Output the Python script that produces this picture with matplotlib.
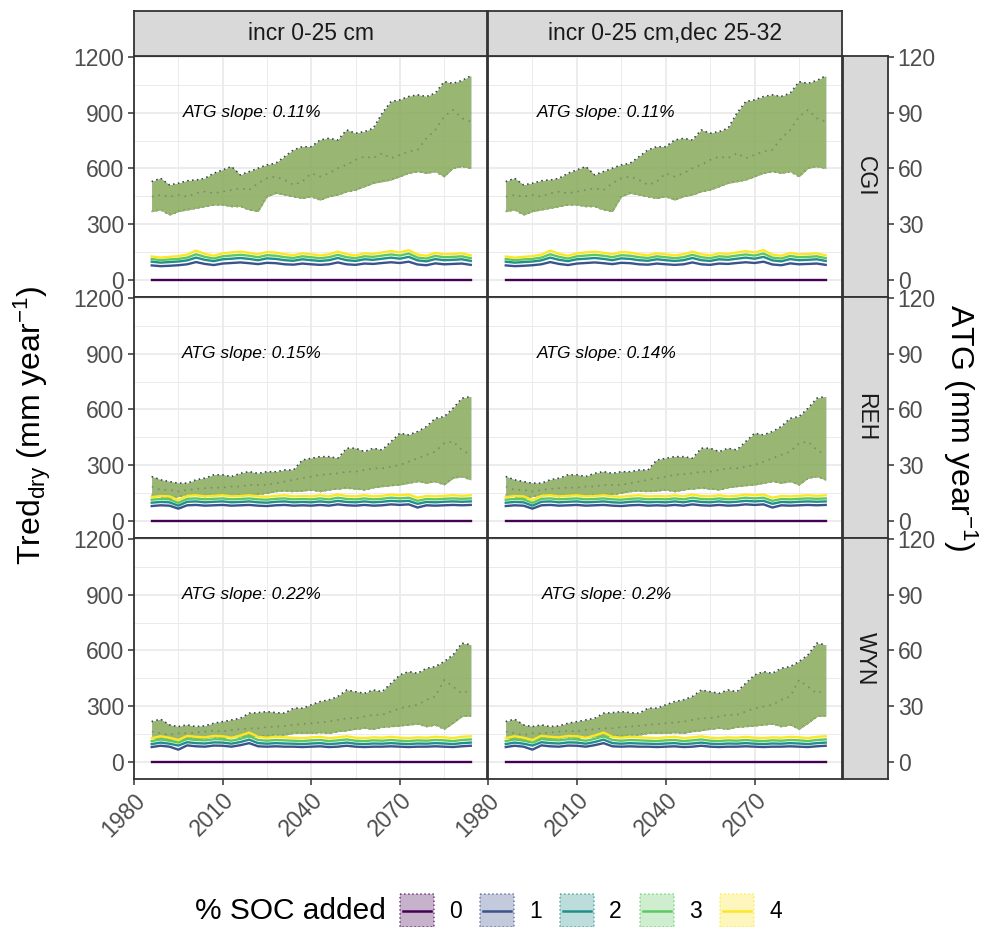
import matplotlib
matplotlib.use('Agg')
import matplotlib.pyplot as plt
from matplotlib.patches import Rectangle
import numpy as np

plt.rcParams['font.family'] = ['Liberation Sans', 'DejaVu Sans']
plt.rcParams['mathtext.fontset'] = 'custom'
plt.rcParams['mathtext.rm'] = 'Liberation Sans'
plt.rcParams['mathtext.it'] = 'Liberation Sans:italic'

# x values (every third simulated year)
years = list(range(1986, 2095, 3))

sites = ['CGI', 'REH', 'WYN']
scenarios = ['incr 0-25 cm', 'incr 0-25 cm,dec 25-32']
soc_levels = ['0', '1', '2', '3', '4']
soc_colors = ['#440154', '#3B528B', '#21908C', '#5DC863', '#FDE725']
slope_labels = [['0.11%', '0.11%'], ['0.15%', '0.14%'], ['0.22%', '0.2%']]

# ATG (mm/yr) ribbon bounds and centre line, secondary axis
cgi_atg_hi = [52.9, 54.7, 51.1, 52.0, 53.4, 53.8, 54.7, 57.4, 59.2, 61.0, 56.5, 58.3, 60.1,
              61.9, 62.8, 66.4, 70.0, 71.7, 71.7, 75.3, 76.2, 75.3, 80.7, 78.9, 79.8, 81.6,
              89.7, 96.0, 96.9, 98.7, 99.6, 98.7, 100.5, 106.7, 105.8, 107.3, 109.8]
cgi_atg_lo = [36.8, 37.7, 35.0, 36.8, 37.7, 38.6, 39.5, 40.4, 40.4, 39.5, 39.5, 37.7, 36.8,
              44.8, 46.6, 45.7, 44.8, 43.9, 44.8, 43.0, 44.8, 45.7, 47.5, 48.4, 50.2, 52.0,
              52.9, 53.8, 55.6, 57.4, 58.3, 57.4, 58.3, 55.6, 60.1, 61.0, 60.1]
cgi_atg_mid = [44.8, 45.7, 44.8, 45.7, 44.8, 46.6, 47.5, 46.6, 47.5, 48.4, 49.3, 48.4, 52.0,
               54.7, 55.6, 53.8, 51.1, 52.9, 57.4, 55.6, 57.4, 60.1, 61.9, 64.6, 66.4, 65.5,
               68.2, 65.5, 67.3, 69.1, 70.0, 76.2, 80.7, 87.9, 91.5, 87.0, 85.2]

reh_atg_hi = [23.9, 22.1, 21.2, 20.3, 20.3, 22.1, 23.0, 24.8, 24.8, 23.9, 25.6, 26.5, 25.6,
              26.5, 26.5, 27.4, 27.4, 32.8, 33.7, 34.6, 34.6, 33.7, 39.1, 39.1, 37.3, 39.1,
              38.2, 42.7, 47.2, 46.3, 48.1, 50.8, 55.2, 56.1, 60.6, 66.0, 66.9]
reh_atg_lo = [14.0, 13.1, 12.2, 13.1, 14.0, 14.0, 13.1, 14.0, 14.0, 13.1, 14.0, 14.0, 14.3,
              14.9, 15.8, 16.1, 15.8, 16.1, 16.7, 15.8, 16.7, 17.2, 17.6, 17.2, 16.7, 17.9,
              18.5, 19.0, 19.4, 20.3, 21.2, 20.3, 21.2, 19.4, 23.0, 23.8, 22.1]
reh_atg_mid = [18.5, 16.7, 16.7, 15.8, 16.7, 17.2, 17.6, 17.9, 17.9, 18.5, 18.5, 19.4, 19.4,
               19.4, 20.3, 21.2, 22.1, 23.0, 23.8, 24.8, 25.1, 25.6, 26.5, 26.5, 27.4, 28.3,
               28.3, 29.2, 30.1, 31.9, 33.7, 35.5, 37.3, 41.8, 42.7, 38.2, 35.5]

wyn_atg_hi = [21.7, 23.0, 19.9, 19.0, 19.9, 19.0, 19.4, 20.8, 21.7, 22.6, 23.5, 26.2, 26.5,
              27.1, 26.5, 26.2, 28.9, 28.9, 30.7, 32.5, 33.4, 35.2, 38.7, 37.8, 36.9, 38.7,
              37.8, 42.3, 46.8, 48.6, 47.7, 50.4, 51.3, 54.0, 57.6, 63.9, 63.0]
wyn_atg_lo = [12.7, 12.7, 11.8, 11.8, 12.7, 12.7, 12.7, 13.6, 12.7, 13.6, 13.6, 13.6, 14.0,
              13.6, 14.5, 14.5, 15.4, 15.4, 15.4, 15.8, 15.4, 16.3, 16.8, 17.6, 18.1, 17.6,
              18.7, 19.0, 19.4, 19.9, 20.4, 19.0, 19.9, 17.6, 20.8, 24.4, 24.8]
wyn_atg_mid = [16.3, 15.4, 14.5, 15.4, 15.4, 15.8, 16.3, 16.8, 16.3, 17.2, 17.6, 18.1, 18.1,
               18.7, 19.0, 19.4, 19.9, 20.4, 20.8, 21.2, 21.7, 22.6, 23.5, 23.5, 24.4, 25.3,
               25.3, 27.1, 28.9, 29.8, 30.7, 33.4, 35.2, 44.1, 40.5, 36.9, 38.7]

# Tred_dry (mm/yr) per % SOC added, primary axis
cgi_tred_0 = [0] * len(years)
cgi_tred_1 = [78, 74, 76, 79, 84, 96, 86, 80, 88, 91, 94, 90, 85, 92, 90, 84, 82, 88, 84,
              81, 84, 94, 84, 81, 88, 86, 91, 95, 91, 98, 83, 79, 89, 84, 86, 88, 81]
cgi_tred_2 = [98, 93, 96, 99, 105, 120, 108, 101, 111, 114, 118, 113, 106, 116, 113, 106,
              103, 111, 106, 102, 106, 118, 106, 102, 111, 108, 114, 120, 114, 124, 105, 100,
              112, 106, 108, 111, 102]
cgi_tred_3 = [112, 107, 110, 113, 120, 138, 124, 115, 127, 131, 135, 130, 122, 133, 130, 122,
              118, 127, 122, 117, 122, 135, 122, 117, 127, 124, 131, 137, 131, 142, 120, 115,
              129, 122, 124, 127, 117]
cgi_tred_4 = [126, 120, 124, 128, 136, 158, 140, 130, 143, 148, 152, 146, 138, 150, 147, 138,
              133, 143, 138, 132, 138, 152, 138, 132, 143, 140, 148, 155, 148, 160, 136, 130,
              145, 138, 140, 143, 132]

reh_tred_0 = [0] * len(years)
reh_tred_1 = [80, 84, 82, 66, 84, 86, 82, 84, 86, 82, 84, 86, 82, 80, 84, 86, 82, 84, 82,
              86, 82, 89, 84, 82, 86, 82, 84, 89, 86, 89, 72, 84, 82, 84, 86, 84, 86]
reh_tred_2 = [98, 102, 100, 82, 103, 105, 100, 103, 105, 100, 102, 105, 100, 98, 103, 105,
              100, 102, 100, 105, 100, 108, 102, 100, 105, 100, 103, 108, 105, 108, 92, 102,
              100, 103, 105, 103, 105]
reh_tred_3 = [114, 118, 116, 97, 119, 121, 116, 119, 121, 116, 118, 121, 116, 114, 119, 121,
              116, 118, 116, 121, 116, 125, 118, 116, 121, 116, 119, 125, 121, 125, 108, 118,
              116, 119, 121, 119, 121]
reh_tred_4 = [128, 134, 132, 112, 135, 138, 132, 135, 138, 132, 134, 138, 132, 130, 135, 138,
              132, 134, 132, 138, 132, 142, 134, 132, 138, 132, 135, 142, 138, 142, 125, 134,
              132, 135, 138, 135, 138]

wyn_tred_0 = [0] * len(years)
wyn_tred_1 = [80, 87, 82, 66, 89, 84, 82, 88, 87, 82, 90, 101, 84, 82, 84, 82, 82, 80, 82,
              84, 80, 82, 87, 82, 80, 82, 82, 84, 82, 80, 82, 82, 84, 82, 80, 84, 87]
wyn_tred_2 = [96, 104, 98, 88, 106, 101, 99, 105, 104, 98, 107, 120, 101, 98, 101, 99, 98,
              96, 99, 101, 96, 99, 104, 98, 96, 99, 98, 101, 98, 96, 99, 98, 101, 99, 96, 101,
              104]
wyn_tred_3 = [112, 121, 114, 104, 123, 118, 116, 122, 121, 114, 124, 138, 118, 114, 118, 116,
              114, 112, 116, 118, 112, 116, 121, 114, 112, 116, 114, 118, 114, 112, 116, 114,
              118, 116, 112, 118, 121]
wyn_tred_4 = [128, 138, 130, 118, 140, 135, 132, 140, 138, 130, 142, 158, 135, 130, 135, 132,
              130, 128, 132, 135, 128, 132, 138, 130, 128, 132, 130, 135, 130, 128, 132, 130,
              135, 132, 128, 135, 138]

atg_scale = 10  # ATG axis = Tred axis / 10

site_atg = {
    'CGI': (cgi_atg_lo, cgi_atg_hi, cgi_atg_mid),
    'REH': (reh_atg_lo, reh_atg_hi, reh_atg_mid),
    'WYN': (wyn_atg_lo, wyn_atg_hi, wyn_atg_mid),
}
site_tred = {
    'CGI': [cgi_tred_0, cgi_tred_1, cgi_tred_2, cgi_tred_3, cgi_tred_4],
    'REH': [reh_tred_0, reh_tred_1, reh_tred_2, reh_tred_3, reh_tred_4],
    'WYN': [wyn_tred_0, wyn_tred_1, wyn_tred_2, wyn_tred_3, wyn_tred_4],
}

W, H = 989, 927
fig = plt.figure(figsize=(W / 100, H / 100), dpi=100)


def frame(x0, y0, x1, y1):
    # pixel box -> figure fraction rect
    return [x0 / W, 1 - y1 / H, (x1 - x0) / W, (y1 - y0) / H]


col_px = [(134, 487), (488, 842)]
row_px = [(56, 297), (297, 538), (538, 779)]
dark = '#333333'
tick_grey = '#4d4d4d'

for r, site in enumerate(sites):
    lo, hi, mid = site_atg[site]
    lo = np.array(lo) * atg_scale
    hi = np.array(hi) * atg_scale
    mid = np.array(mid) * atg_scale
    for c, scen in enumerate(scenarios):
        x0, x1 = col_px[c]
        y0, y1 = row_px[r]
        ax = fig.add_axes(frame(x0, y0, x1, y1))

        # ribbons, one per SOC level
        for col in soc_colors:
            ax.fill_between(years, lo, hi, color=col, alpha=0.3, lw=0, zorder=2)
        for col in soc_colors[::-1]:
            ax.plot(years, hi, color=col, ls=(0, (1, 2.5)), lw=1.0, alpha=0.55, zorder=3)
        for col in soc_colors:
            ax.plot(years, lo, color=col, ls=(0, (1, 2.5)), lw=1.0, alpha=0.55, zorder=3)
        ax.plot(years, mid, color='#5a5a5a', ls=(0, (1, 3)), lw=1.2, alpha=0.45, zorder=3)

        for k, col in enumerate(soc_colors):
            ax.plot(years, site_tred[site][k], color=col, lw=1.7, zorder=4)

        ax.text(2020, 900, 'ATG slope: ' + slope_labels[r][c], style='italic',
                ha='center', va='center', fontsize=12.5, color='black', zorder=5)

        ax.set_xlim(1980, 2099.5)
        ax.set_ylim(-92, 1205)
        ax.set_xticks([1980, 2010, 2040, 2070])
        ax.set_xticks([1995, 2025, 2055, 2085], minor=True)
        ax.set_yticks([0, 300, 600, 900, 1200])
        ax.set_yticks([150, 450, 750, 1050], minor=True)
        ax.grid(which='major', color='#ebebeb', lw=1.3)
        ax.grid(which='minor', color='#ebebeb', lw=0.7)
        ax.set_axisbelow(True)
        for sp in ax.spines.values():
            sp.set_color(dark)
            sp.set_linewidth(1.3)
        ax.tick_params(which='minor', length=0)
        ax.tick_params(which='major', direction='out', length=4, width=1.1, color=dark,
                       labelcolor=tick_grey, labelsize=16.5, pad=3)
        if c == 1:
            ax.tick_params(left=False, labelleft=False)
        if r < 2:
            ax.tick_params(bottom=False, labelbottom=False)
        else:
            for lab in ax.get_xticklabels():
                lab.set_rotation(45)
                lab.set_ha('right')
                lab.set_rotation_mode('anchor')

        if c == 1:
            sec = ax.secondary_yaxis(1 + 46 / (x1 - x0),
                                     functions=(lambda v: v / atg_scale,
                                                lambda v: v * atg_scale))
            sec.set_yticks([0, 30, 60, 90, 120])
            sec.spines['right'].set_visible(False)
            sec.tick_params(direction='out', length=4, width=1.1, color=dark,
                            labelcolor=tick_grey, labelsize=16.5, pad=3)

    # right strip
    sax = fig.add_axes(frame(843, row_px[r][0], 888, row_px[r][1]))
    sax.set_facecolor('#d9d9d9')
    sax.set_xticks([])
    sax.set_yticks([])
    for sp in sax.spines.values():
        sp.set_color(dark)
        sp.set_linewidth(1.3)
    sax.text(0.5, 0.5, site, rotation=-90, ha='center', va='center', fontsize=16.5,
             color='#1a1a1a', transform=sax.transAxes)

# top strips
for c, scen in enumerate(scenarios):
    sax = fig.add_axes(frame(col_px[c][0], 11, col_px[c][1], 56))
    sax.set_facecolor('#d9d9d9')
    sax.set_xticks([])
    sax.set_yticks([])
    for sp in sax.spines.values():
        sp.set_color(dark)
        sp.set_linewidth(1.3)
    sax.text(0.5, 0.5, scen, ha='center', va='center', fontsize=16.5, color='#1a1a1a',
             transform=sax.transAxes)

# axis titles
fig.text(32 / W, 1 - 425 / H, r'Tred$_{\mathrm{dry}}$ (mm year$^{-1}$)', rotation=90,
         ha='center', va='center', fontsize=23)
fig.text(960 / W, 1 - 428 / H, r'ATG (mm year$^{-1}$)', rotation=-90,
         ha='center', va='center', fontsize=23)

# legend
lax = fig.add_axes([0, 0, 1, 1])
lax.set_xlim(0, W)
lax.set_ylim(H, 0)
lax.axis('off')
lax.text(195, 911, '% SOC added', ha='left', va='center', fontsize=21.5)
for k, (lev, col) in enumerate(zip(soc_levels, soc_colors)):
    bx = 400 + 80 * k
    lax.add_patch(Rectangle((bx, 894), 34, 33, facecolor=col, alpha=0.3, lw=0))
    lax.add_patch(Rectangle((bx, 894), 34, 33, facecolor='none', edgecolor=col, ls=':',
                            lw=1.1, alpha=0.7))
    lax.plot([bx + 3, bx + 31], [911, 911], color=col, lw=1.8)
    lax.text(bx + 49, 911, lev, ha='left', va='center', fontsize=16.5)

fig.savefig('out.png', dpi=100)
